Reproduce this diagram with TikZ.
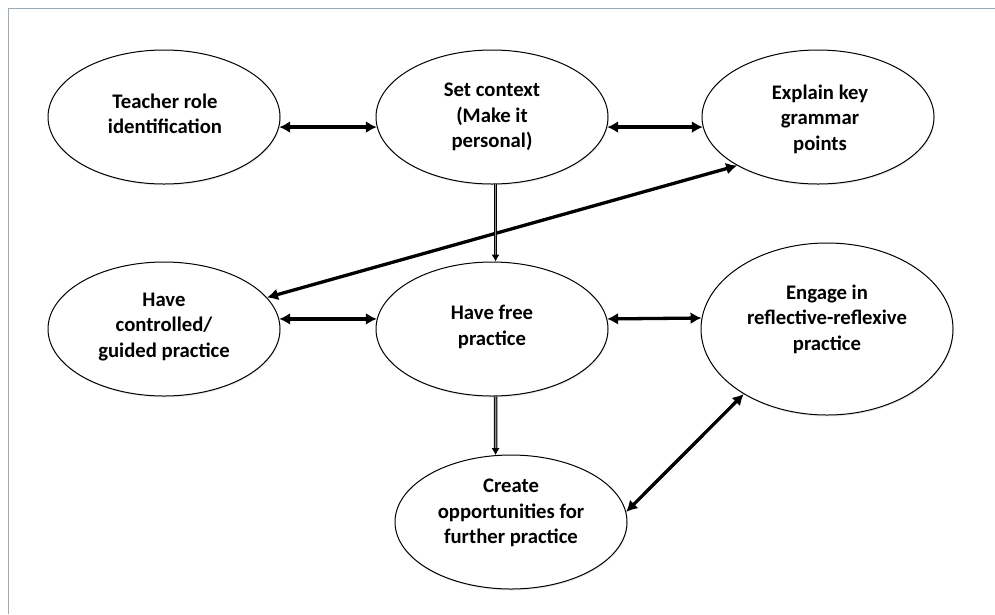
\documentclass[tikz,border=0pt]{standalone}
\usepackage{fontspec}
\setmainfont{Carlito}
\usetikzlibrary{arrows.meta,shapes.geometric,shadows}
\definecolor{framecol}{RGB}{155,170,185}
\begin{document}
\begin{tikzpicture}[x=1pt,y=-1pt,
  bubble/.style={ellipse, draw=black, line width=1pt, fill=white, inner sep=0pt,
    drop shadow={opacity=0.15, shadow xshift=0.8pt, shadow yshift=-1.5pt}},
  lbl/.style={align=center, font=\bfseries\fontsize{20.7}{25.5}\selectfont, inner sep=0pt},
  link/.style={line width=3.3pt, {Latex[length=11pt,width=12pt]}-{Latex[length=11pt,width=12pt]}},
  vlink/.style={draw=black, line width=1pt, double=black!45, double distance=1.5pt, -{Latex[length=7pt,width=8pt]}}
]
\useasboundingbox (0,0) rectangle (995,614);
\draw[framecol, line width=1.5pt] (995,8.5) -- (8.5,8.5) -- (8.5,614);

\node[bubble, minimum width=232pt, minimum height=134pt] (t) at (164,117) {};
\node[bubble, minimum width=232pt, minimum height=134pt] (s) at (492,117) {};
\node[bubble, minimum width=232pt, minimum height=134pt] (e) at (818,117) {};
\node[bubble, minimum width=232pt, minimum height=134pt] (c) at (164,329) {};
\node[bubble, minimum width=232pt, minimum height=134pt] (f) at (492,329) {};
\node[bubble, minimum width=252pt, minimum height=172pt] (g) at (827,329) {};
\node[bubble, minimum width=232pt, minimum height=134pt] (cr) at (511,522) {};

\node[lbl] (tt) at (165,114) {Teacher role\\identification};
\node[lbl] (st) at (492,117) {Set context\\(Make it\\personal)};
\node[lbl] (et) at (820,119) {Explain key\\grammar\\points};
\node[lbl] (ct) at (164,327) {Have\\controlled/\\guided practice};
\node[lbl] (ft) at (492,327) {Have free\\practice};
\node[lbl] (gt) at (827,319) {Engage in\\reflective-reflexive\\practice};
\node[lbl] (crt) at (511,513) {Create\\opportunities for\\further practice};

\draw[link] (t.-5) -- (s.185);
\draw[link] (s.-5) -- (e.185);
\draw[link] (c.5) -- (f.175);
\draw[link] (f.5) -- (g.175);
\draw[link] (c.17) -- (e.211);
\draw[link] (cr.5) -- (g.218);
\draw[vlink] (s.-87) -- (f.87);
\draw[vlink] (f.-87) -- (cr.103);
\end{tikzpicture}
\end{document}
